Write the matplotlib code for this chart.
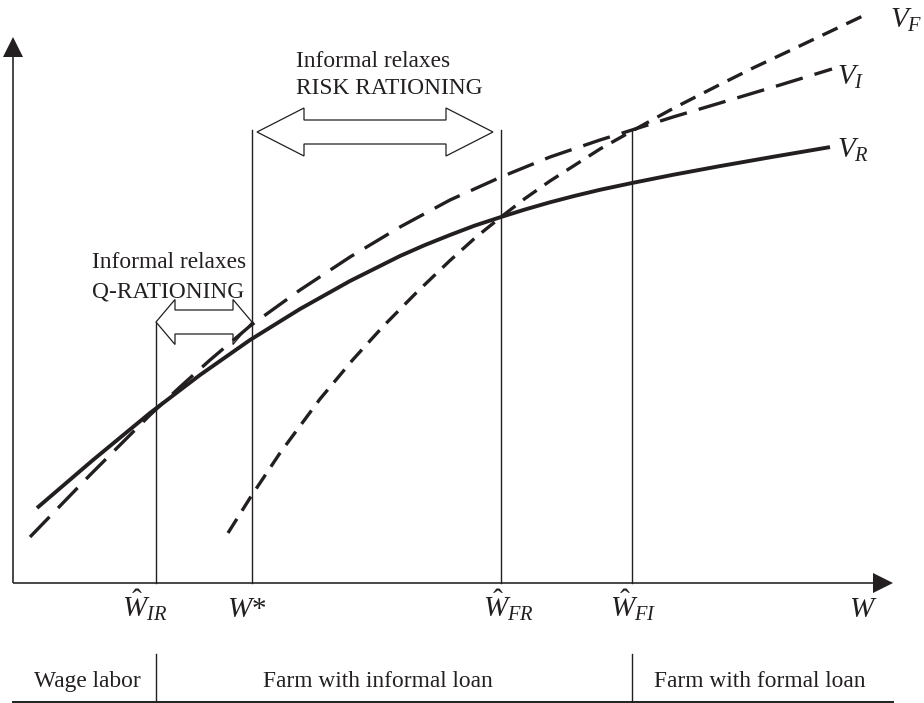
import matplotlib
matplotlib.use("Agg")
import matplotlib.pyplot as plt
from matplotlib.patches import Polygon

plt.rcParams['font.family'] = ['Liberation Serif', 'DejaVu Serif']
plt.rcParams['mathtext.fontset'] = 'custom'
plt.rcParams['mathtext.rm'] = 'Liberation Serif'
plt.rcParams['mathtext.it'] = 'Liberation Serif:italic'

INK = '#231f20'

# value curves, W on the x axis, V on the y axis
w_r = [0.24, 0.80, 1.37, 1.87, 2.37, 2.87, 3.37, 3.87, 4.12, 4.37, 4.62, 4.88, 5.12, 5.37,
       5.62, 5.87, 6.19, 6.60, 7.07, 7.60, 8.17]
v_r = [0.75, 1.23, 1.70, 2.08, 2.43, 2.74, 3.02, 3.27, 3.38, 3.48, 3.575, 3.66, 3.735, 3.807,
       3.872, 3.932, 4.00, 4.082, 4.169, 4.262, 4.359]

w_i = [0.17, 0.47, 0.77, 1.07, 1.37, 1.67, 1.97, 2.37, 2.87, 3.37, 3.87, 4.37, 4.88, 5.37,
       5.87, 6.19, 6.60, 7.07, 7.67, 8.19]
v_i = [0.46, 0.77, 1.08, 1.38, 1.68, 1.96, 2.23, 2.57, 2.93, 3.26, 3.56, 3.83, 4.06, 4.26,
       4.43, 4.53, 4.66, 4.80, 4.98, 5.14]

w_f = [2.15, 2.37, 2.67, 3.07, 3.40, 3.70, 4.04, 4.37, 4.62, 4.88, 5.12, 5.37, 5.62, 5.87,
       6.19, 6.60, 7.07, 7.40, 7.74, 8.14, 8.54]
v_f = [0.50, 0.85, 1.30, 1.84, 2.235, 2.565, 2.91, 3.225, 3.45, 3.66, 3.845, 4.02, 4.18, 4.34,
       4.52, 4.745, 4.985, 5.15, 5.31, 5.50, 5.69]

# thresholds on the W axis and how high their guide lines go
thresholds = [1.43, 2.39, 4.88, 6.19]
threshold_tops = [2.61, 4.53, 4.53, 4.53]
threshold_labels = [r'$\hat{W}_{IR}$', r'$W$*', r'$\hat{W}_{FR}$', r'$\hat{W}_{FI}$']
label_x = [1.32, 2.34, 4.96, 6.20]

regions = ['Wage labor', 'Farm with informal loan', 'Farm with formal loan']
region_x = [0.745, 3.65, 7.47]
region_edges = [1.43, 6.19]


def block_darrow(ax, x0, x1, y, head_len, head_half, shaft_half):
    pts = [(x0, y), (x0 + head_len, y + head_half), (x0 + head_len, y + shaft_half),
           (x1 - head_len, y + shaft_half), (x1 - head_len, y + head_half), (x1, y),
           (x1 - head_len, y - head_half), (x1 - head_len, y - shaft_half),
           (x0 + head_len, y - shaft_half), (x0 + head_len, y - head_half)]
    ax.add_patch(Polygon(pts, closed=True, facecolor='white', edgecolor=INK,
                         lw=0.9, joinstyle='miter', zorder=2))


fig = plt.figure(figsize=(9.24, 7.03), dpi=100)
ax = fig.add_axes([0, 0, 1, 1])
ax.set_xlim(-0.13, 9.11)
ax.set_ylim(-1.20, 5.83)
ax.axis('off')

# axes with arrow heads
ax.arrow(0, 0, 8.80, 0, width=0.016, head_width=0.20, head_length=0.20,
         length_includes_head=True, fc=INK, ec=INK, lw=0, zorder=4)
ax.arrow(0, 0, 0, 5.46, width=0.016, head_width=0.20, head_length=0.20,
         length_includes_head=True, fc=INK, ec=INK, lw=0, zorder=4)

# curves
ax.plot(w_r, v_r, color=INK, lw=2.8, solid_capstyle='butt', solid_joinstyle='round', zorder=3)
ax.plot(w_i, v_i, color=INK, lw=2.4, dashes=(8.4, 3.7), dash_capstyle='butt', zorder=3)
ax.plot(w_f, v_f, color=INK, lw=2.4, dashes=(5.0, 2.9), dash_capstyle='butt', zorder=3)

ax.text(8.24, 4.25, r'$V_R$', fontsize=21, ha='left', va='baseline', color=INK)
ax.text(8.24, 4.98, r'$V_I$', fontsize=21, ha='left', va='baseline', color=INK)
ax.text(8.77, 5.55, r'$V_F$', fontsize=21, ha='left', va='baseline', color=INK)

# guide lines and their labels
for x, top, lab, lx in zip(thresholds, threshold_tops, threshold_labels, label_x):
    ax.plot([x, x], [0, top], color=INK, lw=1.0, zorder=1)
    ax.text(lx, -0.34, lab, fontsize=21, ha='center', va='baseline', color=INK)
ax.text(8.50, -0.34, r'$W$', fontsize=21, ha='center', va='baseline', color=INK)

# block arrows with their notes
block_darrow(ax, 1.43, 2.39, 2.61, 0.19, 0.225, 0.12)
block_darrow(ax, 2.44, 4.80, 4.51, 0.47, 0.24, 0.12)
ax.text(0.79, 3.15, 'Informal relaxes', fontsize=16.8, ha='left', va='baseline', color=INK)
ax.text(0.79, 2.86, 'Q-RATIONING', fontsize=16.8, ha='left', va='baseline', color=INK)
ax.text(2.83, 5.16, 'Informal relaxes', fontsize=16.8, ha='left', va='baseline', color=INK)
ax.text(2.83, 4.89, 'RISK RATIONING', fontsize=16.8, ha='left', va='baseline', color=INK)

# regime strip under the axis
ax.plot([0, 8.80], [-1.185, -1.185], color=INK, lw=1.4)
for x in region_edges:
    ax.plot([x, x], [-0.71, -1.185], color=INK, lw=1.0)
for name, x in zip(regions, region_x):
    ax.text(x, -1.04, name, fontsize=16.8, ha='center', va='baseline', color=INK)

fig.savefig('out.png', dpi=100)
